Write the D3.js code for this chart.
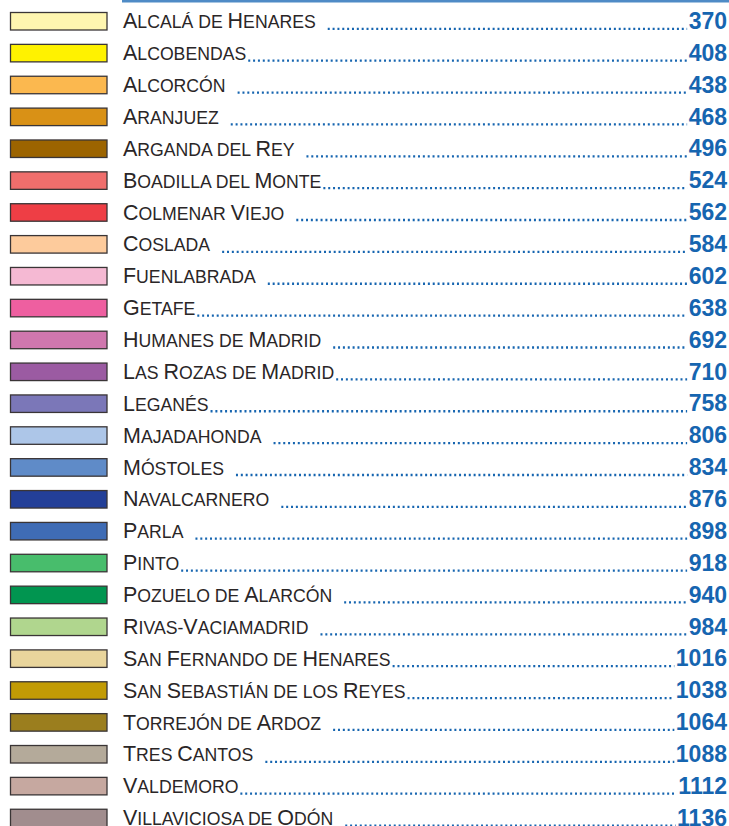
<!DOCTYPE html>
<html>
<head>
<meta charset="utf-8">
<script src="https://cdn.jsdelivr.net/npm/d3@7"></script>
<style>
  html, body { margin: 0; padding: 0; background: #fff; }
  svg { display: block; }
</style>
</head>
<body>
<div id="legend"></div>
<script>
// names (trailing space = a gap before the leader dots, as typeset)
var names = ["Alcalá de Henares ", "Alcobendas", "Alcorcón ", "Aranjuez ", "Arganda del Rey ",
  "Boadilla del Monte", "Colmenar Viejo ", "Coslada ", "Fuenlabrada ", "Getafe",
  "Humanes de Madrid ", "Las Rozas de Madrid", "Leganés", "Majadahonda ", "Móstoles ",
  "Navalcarnero ", "Parla ", "Pinto", "Pozuelo de Alarcón ", "Rivas-Vaciamadrid ",
  "San Fernando de Henares", "San Sebastián de los Reyes", "Torrejón de Ardoz ", "Tres Cantos ",
  "Valdemoro", "Villaviciosa de Odón "];

var pages = [370, 408, 438, 468, 496, 524, 562, 584, 602, 638, 692, 710, 758, 806, 834,
  876, 898, 918, 940, 984, 1016, 1038, 1064, 1088, 1112, 1136];

var colors = ["#fff6b0", "#fff200", "#fbb84f", "#d99116", "#9c6400", "#f06e6c", "#ee3e45",
  "#fdcb9c", "#f5b9d3", "#ee5fa0", "#d077ae", "#9b5ba2", "#7b77b8", "#adc6e8", "#5f8bc8",
  "#233f98", "#3f6cb5", "#48bd6c", "#019550", "#b0d68e", "#e9d59c", "#c29b05", "#9b7e1e",
  "#b4aa9a", "#c6a8a0", "#a18d8e"];

var width = 729, height = 826;
var blue = "#1665b0";

var rows = names.map(function(n, i) { return {name: n, page: pages[i], color: colors[i]}; });

var svg = d3.select("#legend").append("svg")
  .attr("width", width)
  .attr("height", height);

var y = d3.scaleBand()
  .domain(d3.range(rows.length))
  .range([12, 12 + 31.87 * rows.length]);

var textX = 123, rightX = 727, base = 16.4;
var squeeze = 0.95; // names are set in a condensed face

// rule on top
svg.append("rect")
  .attr("x", 122).attr("y", 0)
  .attr("width", width - 122).attr("height", 2.5)
  .attr("fill", "#4f8bc6");

var row = svg.selectAll("g.row")
  .data(rows)
  .enter().append("g")
  .attr("class", "row")
  .attr("transform", function(d, i) { return "translate(0," + y(i) + ")"; });

row.append("rect")
  .attr("x", 10.5).attr("y", 0.5)
  .attr("width", 96.5).attr("height", 17.5)
  .attr("fill", function(d) { return d.color; })
  .attr("stroke", "#3a3536")
  .attr("stroke-width", 1.3);

// small caps: capitals big, the rest as smaller capitals
function runs(s) {
  var out = [];
  s.trim().split("").forEach(function(ch) {
    var big = ch !== ch.toLowerCase();
    var last = out[out.length - 1];
    if (last && last.big === big) last.t += ch.toUpperCase();
    else out.push({big: big, t: ch.toUpperCase()});
  });
  return out;
}

var label = row.append("text")
  .attr("class", "name")
  .attr("transform", "translate(" + textX + "," + base + ") scale(" + squeeze + ",1)")
  .attr("font-family", "'Liberation Sans', Arial, sans-serif")
  .attr("fill", "#2a2627");

label.selectAll("tspan")
  .data(function(d) { return runs(d.name); })
  .enter().append("tspan")
  .attr("font-size", function(d) { return d.big ? 22.6 : 18.6; })
  .text(function(d) { return d.t; });

var num = row.append("text")
  .attr("class", "num")
  .attr("x", rightX).attr("y", base + 0.6)
  .attr("text-anchor", "end")
  .attr("font-family", "'Liberation Sans', Arial, sans-serif")
  .attr("font-weight", "bold")
  .attr("font-size", 23)
  .attr("fill", blue)
  .text(function(d) { return d.page; });

// leader dots
row.each(function(d) {
  var g = d3.select(this);
  var tEnd = textX + g.select("text.name").node().getComputedTextLength() * squeeze;
  var start = tEnd + (d.name.endsWith(" ") ? 12 : 2);
  var nStart = g.select("text.num").node().getBBox().x - 1.5;
  g.append("line")
    .attr("x1", start).attr("x2", nStart)
    .attr("y1", base + 0.4).attr("y2", base + 0.4)
    .attr("stroke", blue)
    .attr("stroke-width", 2.3)
    .attr("stroke-dasharray", "2 2.85");
});
</script>
</body>
</html>
